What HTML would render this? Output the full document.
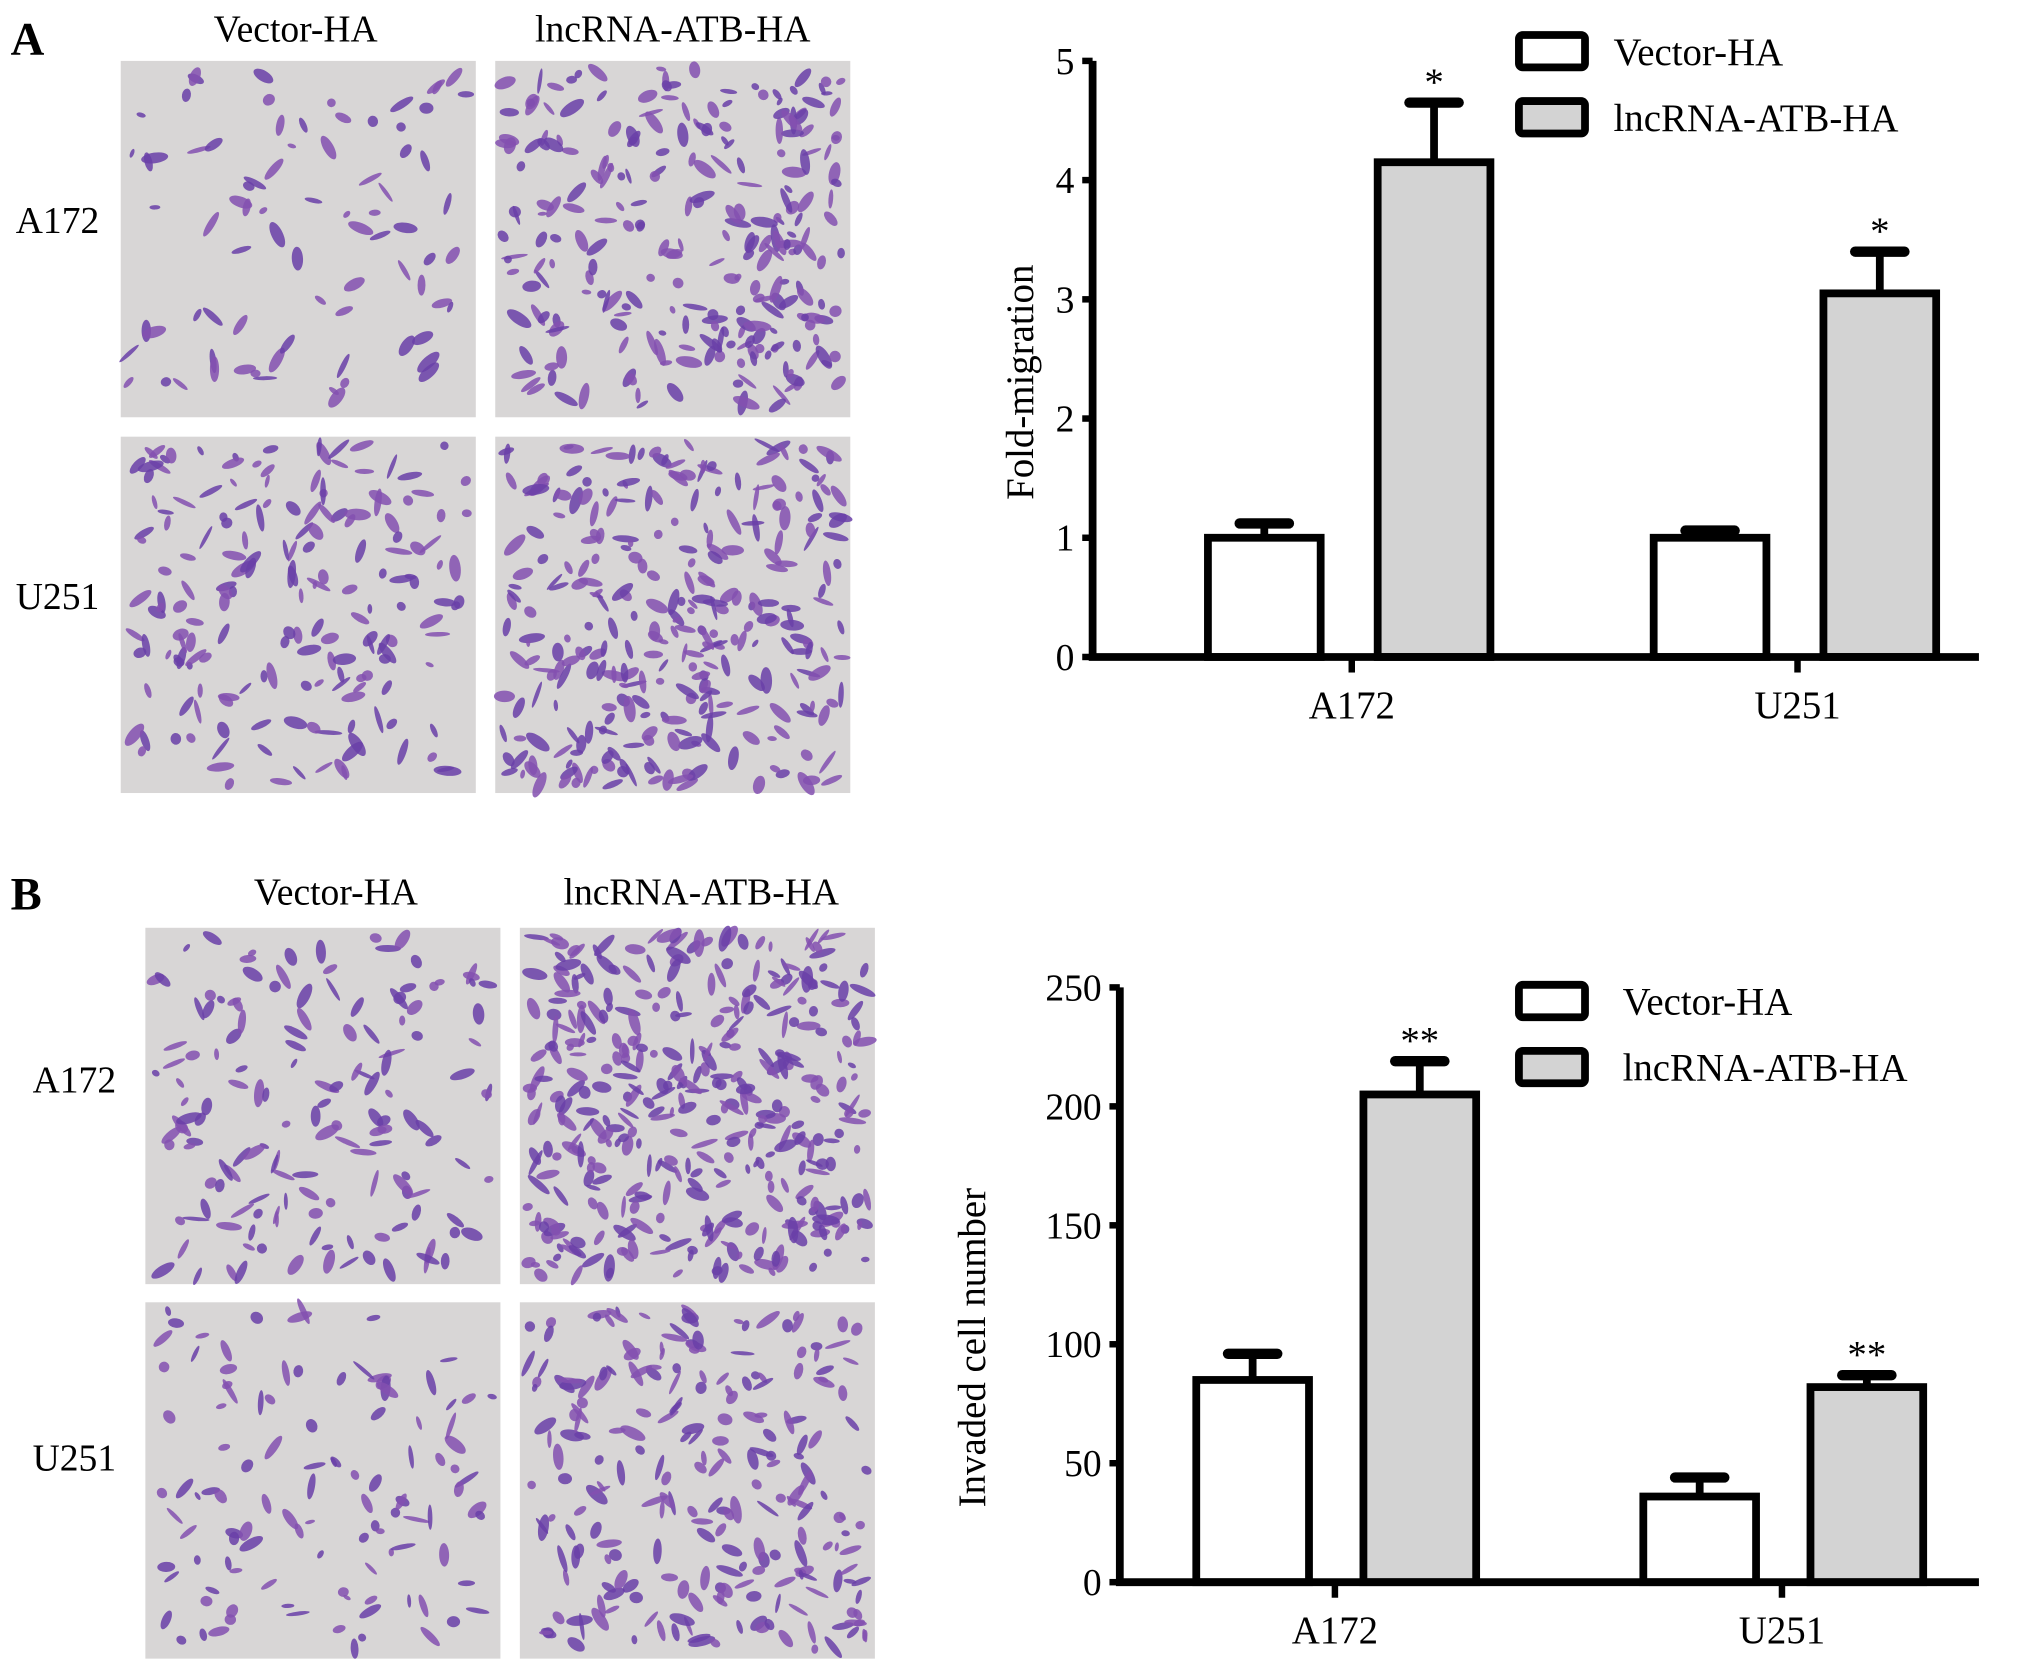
<!DOCTYPE html>
<html><head><meta charset="utf-8">
<style>
html,body{margin:0;padding:0;background:#fff;}
svg{display:block;font-family:"Liberation Serif",serif;}
</style></head>
<body>
<svg id="root" width="2031" height="1669" viewBox="0 0 1567 1288" xmlns="http://www.w3.org/2000/svg">
<g id="imgs"></g>
<g id="texts" fill="#000">
  <text x="8" y="42" font-size="36" font-weight="bold">A</text>
  <text x="228" y="32" font-size="29" text-anchor="middle">Vector-HA</text>
  <text x="519" y="32" font-size="29" text-anchor="middle">lncRNA-ATB-HA</text>
  <text x="12" y="180" font-size="29">A172</text>
  <text x="12" y="470" font-size="29">U251</text>
  <text x="8" y="702" font-size="36" font-weight="bold">B</text>
  <text x="259" y="698" font-size="29" text-anchor="middle">Vector-HA</text>
  <text x="541" y="698" font-size="29" text-anchor="middle">lncRNA-ATB-HA</text>
  <text x="25" y="843" font-size="29">A172</text>
  <text x="25" y="1135" font-size="29">U251</text>
</g>
<g id="chartA"></g>
<g id="chartB"></g>
</svg>
<script>
const NS="http://www.w3.org/2000/svg";
function mk(p,t,a){const e=document.createElementNS(NS,t);for(const k in a)e.setAttribute(k,a[k]);p.appendChild(e);return e;}

// ---- chart data ----
const categories=["A172","U251"];
const seriesNames=["Vector-HA","lncRNA-ATB-HA"];
const migVector=[1.0,1.0];
const migVectorErr=[0.12,0.06];
const migLnc=[4.15,3.05];
const migLncErr=[0.5,0.35];
const migStars=["*","*"];
const migTicks=[0,1,2,3,4,5];
const invVector=[85,36];
const invVectorErr=[11,8];
const invLnc=[205,82];
const invLncErr=[14,5];
const invStars=["**","**"];
const invTicks=[0,50,100,150,200,250];

function chart(g,o){
  const y=v=>o.y0-(v-o.min)/(o.max-o.min)*(o.y0-o.y1);
  const xc=i=>o.cx[i];
  const bw=87;
  const series=[[o.v1,o.e1,"#fff"],[o.v2,o.e2,"#d3d3d3"]];
  series.forEach((s,si)=>{
    s[0].forEach((v,i)=>{
      const x=si===0?xc(i)+o.off1:xc(i)+o.off2;
      const top=y(v+s[1][i]);
      const ln=mk(g,"line",{x1:x+bw/2,x2:x+bw/2,y1:y(v),y2:top,stroke:"#000","stroke-width":6});
      
      
      const cap=mk(g,"line",{x1:x+bw/2-19,x2:x+bw/2+19,y1:top,y2:top,stroke:"#000","stroke-width":8,"stroke-linecap":"round"});
      
      
      const r=mk(g,"rect",{x:x,y:y(v),width:bw,height:o.y0-y(v),fill:s[2],stroke:"#000","stroke-width":6});
      
      
      if(si===1){const t=mk(g,"text",{x:x+bw/2,y:top-6,"font-size":30,"text-anchor":"middle"});t.textContent=o.stars[i];
        
        }
    });
  });
  const ax=mk(g,"path",{d:`M${o.ax},${o.y1} V${o.y0} H1527`,fill:"none",stroke:"#000","stroke-width":6});
  
  
  o.ticks.forEach(t=>{
    const tk=mk(g,"line",{x1:o.ax-8,x2:o.ax,y1:y(t),y2:y(t),stroke:"#000","stroke-width":5});
    
    
    const tl=mk(g,"text",{x:o.ax-14,y:y(t)+10,"font-size":29,"text-anchor":"end"});tl.textContent=t;
    
    
  });
  categories.forEach((c,i)=>{
    const tk=mk(g,"line",{x1:xc(i),x2:xc(i),y1:o.y0,y2:o.y0+12,stroke:"#000","stroke-width":5});
    
    
    const tl=mk(g,"text",{x:xc(i),y:o.y0+47,"font-size":30,"text-anchor":"middle"});tl.textContent=c;
    
    
  });
  const yt=mk(g,"text",{x:0,y:0,"font-size":30,"text-anchor":"middle",transform:`translate(${o.tx},${o.ty}) rotate(-90)`});yt.textContent=o.title;
  
  
  seriesNames.forEach((n,i)=>{
    const ly=o.ly+i*51;
    const lb=mk(g,"rect",{x:1172,y:ly,width:51,height:25,fill:i?"#d3d3d3":"#fff",stroke:"#000","stroke-width":6,rx:3});
    
    
    const lt=mk(g,"text",{x:o.lx,y:ly+23,"font-size":30});lt.textContent=n;
    
    
  });
}
chart(document.getElementById("chartA"),{min:0,max:5,y0:507,y1:47,ax:843,cx:[1043,1387],off1:-111,off2:20,v1:migVector,e1:migVectorErr,v2:migLnc,e2:migLncErr,stars:migStars,ticks:migTicks,title:"Fold-migration",tx:797,ty:295,ly:27,lx:1245});
chart(document.getElementById("chartB"),{min:0,max:250,y0:1221,y1:762,ax:864,cx:[1030,1375],off1:-107,off2:22,v1:invVector,e1:invVectorErr,v2:invLnc,e2:invLncErr,stars:invStars,ticks:invTicks,title:"Invaded cell number",tx:760,ty:1040,ly:760,lx:1252});

// ---- micrographs (decorative) ----
let seed=7;function rnd(){seed=(seed*16807)%2147483647;return seed/2147483647;}
const imgs=document.getElementById("imgs");
const panels=[[93,47,80,"a-a172-vector"],[382,47,260,"a-a172-lnc"],[93,337,180,"a-u251-vector"],[382,337,300,"a-u251-lnc"],
[112,716,150,"b-a172-vector"],[401,716,380,"b-a172-lnc"],[112,1005,110,"b-u251-vector"],[401,1005,230,"b-u251-lnc"]];
panels.forEach(p=>{
  const g=mk(imgs,"g",{});
  
  
  mk(g,"rect",{x:p[0],y:p[1],width:274,height:275,fill:"#d8d6d6"});
  for(let k=0;k<p[2];k++){
    const cx=p[0]+6+rnd()*262, cy=p[1]+6+rnd()*263;
    const rx=3+rnd()*8, ry=1.5+rnd()*3, a=rnd()*180;
    const c=rnd()<0.5?"#6a3fa8":"#8450b0";
    mk(g,"ellipse",{cx:cx,cy:cy,rx:rx,ry:ry,fill:c,"fill-opacity":0.85,transform:`rotate(${a} ${cx} ${cy})`});
  }
});
</script>
</body></html>
